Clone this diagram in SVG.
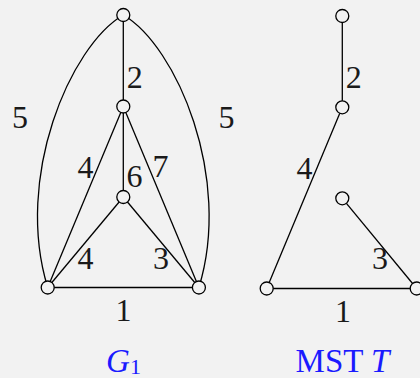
<svg xmlns="http://www.w3.org/2000/svg" width="420" height="378" viewBox="0 0 420 378">
<style>
.e{stroke:#000;stroke-width:1.3;fill:none}
.n{stroke:#000;stroke-width:1.3;fill:#f2f2f2}
.l{font-family:'Liberation Serif','Times New Roman',Tinos,Times,'DejaVu Serif',serif;font-size:32px;fill:#1a1a1a;text-anchor:middle}
.c{font-family:'Liberation Serif','Times New Roman',Tinos,Times,'DejaVu Serif',serif;font-size:33px;fill:#1a1aff;text-anchor:middle}
</style>
<rect width="420" height="378" fill="#f2f2f2"/>
<g id="connectors">
<path class="e" d="M123.3,15 C70,46 14,178 47.7,287.5"/>
<path class="e" d="M123.3,15 C176.6,46 232.6,178 198.9,287.5"/>
<line class="e" x1="123.3" y1="15" x2="123.3" y2="106.5"/>
<line class="e" x1="123.3" y1="106.5" x2="123.3" y2="197"/>
<line class="e" x1="123.3" y1="106.5" x2="47.7" y2="287.5"/>
<line class="e" x1="123.3" y1="106.5" x2="198.9" y2="287.5"/>
<line class="e" x1="123.3" y1="197" x2="47.7" y2="287.5"/>
<line class="e" x1="123.3" y1="197" x2="198.9" y2="287.5"/>
<line class="e" x1="47.7" y1="287.5" x2="198.9" y2="287.5"/>
<line class="e" x1="342.3" y1="16" x2="342.3" y2="107.3"/>
<line class="e" x1="342.3" y1="107.3" x2="266.7" y2="288.5"/>
<line class="e" x1="342.3" y1="198.3" x2="416.7" y2="288.5"/>
<line class="e" x1="266.7" y1="288.5" x2="416.7" y2="288.5"/>
</g>
<g id="edge-labels">
<text class="l" x="20" y="127.5">5</text>
<text class="l" x="226.5" y="127.5">5</text>
<text class="l" x="134.7" y="87.5">2</text>
<text class="l" x="85.5" y="177.5">4</text>
<text class="l" x="134.5" y="187">6</text>
<text class="l" x="160.5" y="177">7</text>
<text class="l" x="85.5" y="268.5">4</text>
<text class="l" x="161" y="268.5">3</text>
<text class="l" x="123.5" y="320.5">1</text>
<text class="l" x="353.7" y="88">2</text>
<text class="l" x="304.5" y="178.5">4</text>
<text class="l" x="380" y="268.5">3</text>
<text class="l" x="343" y="322">1</text>
</g>
<g id="g1-top"><circle class="n" cx="123.3" cy="15" r="6.5"/></g>
<g id="g1-mid"><circle class="n" cx="123.3" cy="106.5" r="6.5"/></g>
<g id="g1-inner"><circle class="n" cx="123.3" cy="197" r="6.5"/></g>
<g id="g1-left"><circle class="n" cx="47.7" cy="287.5" r="6.5"/></g>
<g id="g1-right"><circle class="n" cx="198.9" cy="287.5" r="6.5"/></g>
<g id="t-top"><circle class="n" cx="342.3" cy="16" r="6.5"/></g>
<g id="t-mid"><circle class="n" cx="342.3" cy="107.3" r="6.5"/></g>
<g id="t-inner"><circle class="n" cx="342.3" cy="198.3" r="6.5"/></g>
<g id="t-left"><circle class="n" cx="266.7" cy="288.5" r="6.5"/></g>
<g id="t-right"><circle class="n" cx="416.7" cy="288.5" r="6.5"/></g>
<g id="captions">
<text class="c" x="123.5" y="371.5"><tspan font-style="italic">G</tspan><tspan font-size="22" dy="2">1</tspan></text>
<text class="c" x="342.5" y="372">MST <tspan font-style="italic">T</tspan></text>
</g>
</svg>
